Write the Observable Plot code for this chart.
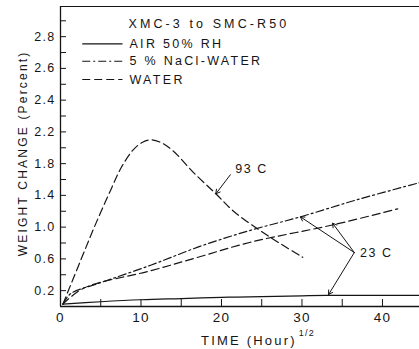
<!DOCTYPE html>
<html>
<head>
<meta charset="utf-8">
<script src="https://cdn.jsdelivr.net/npm/d3@7"></script>
<script src="https://cdn.jsdelivr.net/npm/@observablehq/plot@0.6"></script>
<style>
  html, body { margin: 0; padding: 0; background: #fff; }
  #chart svg { display: block; font-family: "Liberation Sans", Arial, sans-serif; }
  #chart svg text { letter-spacing: 1.3px; }
  #chart g[aria-description="legend title"] text { letter-spacing: 3.1px; }
  #chart g[aria-description="legend label"] text { letter-spacing: 2.3px; }
  #chart g[aria-description="y title"] text { letter-spacing: 2.2px; }
  #chart g[aria-description="x title"] text { letter-spacing: 2.2px; }
  #chart g[aria-description="callout label"] text { letter-spacing: 1.6px; }
</style>
</head>
<body>
<div id="chart"></div>
<script>
// Weight change of XMC-3 to SMC-R50 specimens versus square root of exposure time.

// Series: x = time (hour^1/2), y = weight change (%)
const airX   = [0.3, 5, 10, 15, 20, 25, 30, 33, 44.6];
const airY   = [0.03, 0.06, 0.085, 0.1, 0.115, 0.125, 0.135, 0.14, 0.14];

const naclX  = [0.3, 1.24, 5, 11.2, 17.4, 23.6, 29.8, 37, 44.6];
const naclY  = [0.03, 0.16, 0.30, 0.52, 0.76, 0.96, 1.13, 1.35, 1.56];

const water23X = [0.3, 2.86, 11.2, 17.4, 23.6, 33.9, 41.9];
const water23Y = [0.03, 0.23, 0.45, 0.63, 0.81, 1.03, 1.23];

const water93X = [0.3, 2.5, 4.2, 6.2, 7.6, 9, 10.2, 11.3, 12.6, 14, 16.5, 19.3, 21.5, 24.6, 27.5, 30.1];
const water93Y = [0.03, 0.58, 1.0, 1.46, 1.76, 1.97, 2.07, 2.1, 2.06, 1.96, 1.69, 1.42, 1.2, 0.97, 0.78, 0.62];

// Axis ticks and labels
const xTickAll   = [0, 5, 10, 15, 20, 25, 30, 35, 40];
const xTickLabel = [0, 10, 20, 30, 40];
const yTickAll   = [0.2, 0.4, 0.6, 0.8, 1.0, 1.2, 1.4, 1.6, 1.8, 2.0, 2.2, 2.4, 2.6, 2.8, 3.0, 3.2, 3.4, 3.6];
const yLabelAt   = [0.2, 0.6, 1.0, 1.4, 1.8, 2.2, 2.6, 3.0, 3.4];
const yLabelText = ["0.2", "0.6", "1.0", "1.4", "1.8", "2.2", "2.4", "2.6", "2.8"];

// Legend
const legendTitle = "XMC-3 to SMC-R50";
const legendNames = ["AIR 50% RH", "5 % NaCl-WATER", "WATER"];
const legendDash  = ["none", "8,3,2,3", "8,4"];

// Callouts
const callouts = [
  {label: "93 C", tx: 21.7, ty: 1.73, arrows: [[21.1, 1.66, 19.3, 1.42]]},
  {label: "23 C", tx: 37.2, ty: 0.68, arrows: [[36.5, 0.68, 29.8, 1.13], [36.5, 0.68, 33.8, 1.05], [36.5, 0.68, 33.3, 0.15]]}
];

const xMax = 44.6, yMax = 3.78;
const ink = "#151515";

const toPts = (xs, ys) => xs.map((x, i) => ({x, y: ys[i]}));
const series = [
  {pts: toPts(airX, airY), dash: legendDash[0]},
  {pts: toPts(naclX, naclY), dash: legendDash[1]},
  {pts: toPts(water23X, water23Y), dash: legendDash[2]},
  {pts: toPts(water93X, water93Y), dash: legendDash[2]}
];

const labelMap = new Map(yLabelAt.map((v, i) => [v.toFixed(1), yLabelText[i]]));

// legend rows positioned in data units inside the frame
const legendY = [3.31, 3.09, 2.86];
const legendRows = legendNames.map((name, i) => ({name, dash: legendDash[i], y: legendY[i]}));

const arrowRows = callouts.flatMap(c => c.arrows.map(([x1, y1, x2, y2]) => ({x1, y1, x2, y2})));

const marks = [
  // frame: left, bottom, top
  Plot.ruleX([0], {stroke: ink, strokeWidth: 1.3}),
  Plot.ruleY([0], {stroke: ink, strokeWidth: 1.3}),
  Plot.ruleY([yMax], {stroke: ink, strokeWidth: 1}),
  // inward ticks
  Plot.axisY({ticks: yTickAll, tickSize: -6, tickFormat: () => "", stroke: ink}),
  Plot.axisX({ticks: xTickAll, tickSize: -7, tickFormat: () => "", stroke: ink}),
  // tick labels
  Plot.axisY({ticks: yLabelAt, tickSize: 0, tickPadding: 5, tickFormat: d => labelMap.get((+d).toFixed(1)), fontSize: 12.5, fill: ink, label: null}),
  Plot.axisX({ticks: xTickLabel, tickSize: 0, tickPadding: 6, fontSize: 13.5, fill: ink, label: null}),
  // axis titles
  Plot.text([{x: 23.4, y: -0.43}], {x: "x", y: "y", text: () => "TIME (Hour)", fontSize: 13, fill: ink, ariaDescription: "x title"}),
  Plot.text([{x: 29.6, y: -0.33}], {x: "x", y: "y", text: () => "1/2", fontSize: 9, fill: ink, textAnchor: "start"}),
  Plot.text([{x: -4.7, y: 1.93}], {x: "x", y: "y", text: () => "WEIGHT CHANGE (Percent)", rotate: -90, fontSize: 12, fill: ink, ariaDescription: "y title"}),
  // series
  ...series.map(s => Plot.line(s.pts, {x: "x", y: "y", curve: "catmull-rom", stroke: ink, strokeWidth: 1.2, strokeDasharray: s.dash})),
  // legend
  Plot.text([{x: 8.45, y: 3.56}], {x: "x", y: "y", text: () => legendTitle, textAnchor: "start", fontSize: 12.5, fill: ink, ariaDescription: "legend title"}),
  ...legendRows.map(r => Plot.link([r], {x1: 2.7, x2: 7.7, y1: "y", y2: "y", stroke: ink, strokeWidth: 1.2, strokeDasharray: r.dash})),
  Plot.text(legendRows, {x: 8.57, y: "y", text: "name", textAnchor: "start", fontSize: 12.5, fill: ink, ariaDescription: "legend label"}),
  // callouts
  Plot.arrow(arrowRows, {x1: "x1", y1: "y1", x2: "x2", y2: "y2", stroke: ink, strokeWidth: 1, headLength: 7}),
  Plot.text(callouts, {x: "tx", y: "ty", text: "label", textAnchor: "start", fontSize: 12.5, fill: ink, ariaDescription: "callout label"})
];

const chart = Plot.plot({
  width: 419,
  height: 349,
  marginLeft: 60,
  marginRight: 0,
  marginTop: 6,
  marginBottom: 43,
  x: {domain: [0, xMax], axis: null},
  y: {domain: [0, yMax], axis: null},
  style: {background: "#fff", color: ink},
  marks
});

document.getElementById("chart").appendChild(chart);
</script>
</body>
</html>
